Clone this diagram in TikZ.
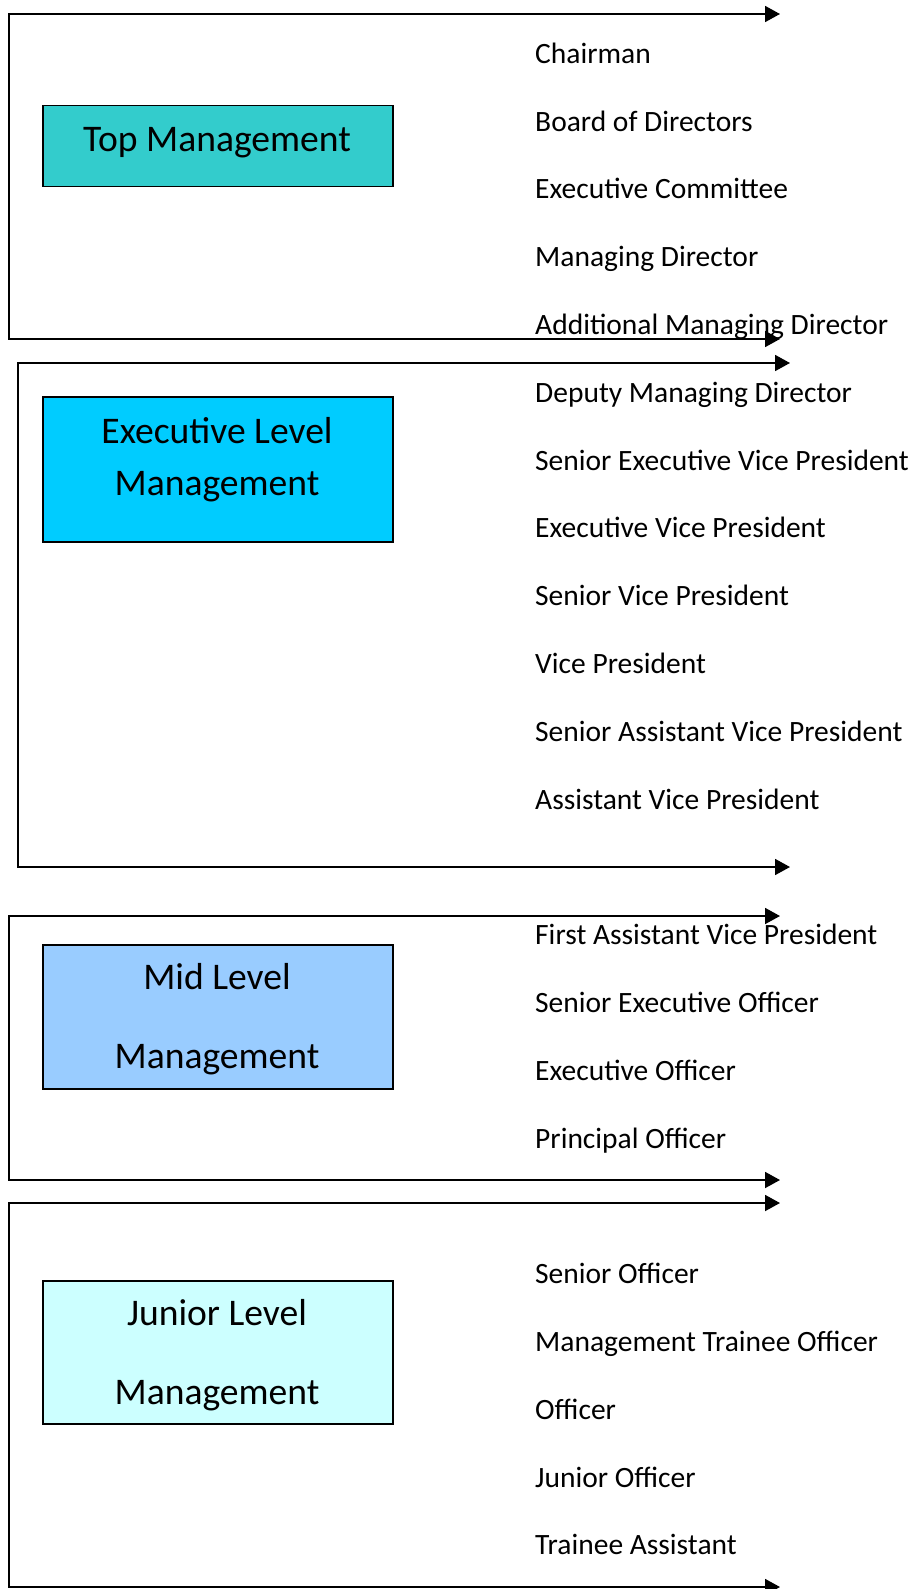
\documentclass[tikz,border=0pt]{standalone}
\usepackage{fontspec}
\setmainfont{Carlito}
\usetikzlibrary{arrows.meta}
\begin{document}
\begin{tikzpicture}[x=1pt,y=-1pt,
  bracket/.style={line width=1.8pt,{Triangle[length=15pt,width=16pt]}-{Triangle[length=15pt,width=16pt]}},
  levelbox/.style={draw=black,line width=1.5pt,minimum width=350pt,anchor=north west,inner sep=0pt},
  boxtext/.style={anchor=base,inner sep=0pt,font=\fontsize{37.6}{40}\selectfont},
  rank/.style={anchor=base west,inner sep=0pt,font=\fontsize{29.5}{32}\selectfont}]
\useasboundingbox (0,0) rectangle (910,1589);
\fill[white] (0,0) rectangle (910,1589);
% brackets
\coordinate (a1) at (780,14); \coordinate (l1t) at (9,14); \coordinate (l1b) at (9,339); \coordinate (b1) at (780,339);
\coordinate (a2) at (790,363); \coordinate (l2t) at (18,363); \coordinate (l2b) at (18,867); \coordinate (b2) at (790,867);
\coordinate (a3) at (780,916); \coordinate (l3t) at (9,916); \coordinate (l3b) at (9,1180); \coordinate (b3) at (780,1180);
\coordinate (a4) at (780,1203); \coordinate (l4t) at (9,1203); \coordinate (l4b) at (9,1587); \coordinate (b4) at (780,1587);
\draw[bracket] (a1) -- (l1t) -- (l1b) -- (b1);
\draw[bracket] (a2) -- (l2t) -- (l2b) -- (b2);
\draw[bracket] (a3) -- (l3t) -- (l3b) -- (b3);
\draw[bracket] (a4) -- (l4t) -- (l4b) -- (b4);
% boxes
\node[levelbox,fill={rgb,255:red,51;green,204;blue,204},minimum height=81pt] (top) at (42,105) {};
\node[levelbox,fill={rgb,255:red,0;green,204;blue,255},minimum height=145pt] (exec) at (42,396) {};
\node[levelbox,fill={rgb,255:red,153;green,204;blue,255},minimum height=144pt] (mid) at (42,944) {};
\node[levelbox,fill={rgb,255:red,204;green,255;blue,255},minimum height=143pt] (jun) at (42,1280) {};
\node[boxtext] (topt) at (217,152) {Top Management};
\node[boxtext] (exect1) at (217,443) {Executive Level};
\node[boxtext] (exect2) at (217,495) {Management};
\node[boxtext] (midt1) at (217,989) {Mid Level};
\node[boxtext] (midt2) at (217,1068) {Management};
\node[boxtext] (junt1) at (217,1325) {Junior Level};
\node[boxtext] (junt2) at (217,1404) {Management};
% ranks
\foreach \i/\t in {0/Chairman,1/Board of Directors,2/Executive Committee,3/Managing Director,4/Additional Managing Director,5/Deputy Managing Director,6/Senior Executive Vice President,7/Executive Vice President,8/Senior Vice President,9/Vice President,10/Senior Assistant Vice President,11/Assistant Vice President,13/First Assistant Vice President,14/Senior Executive Officer,15/Executive Officer,16/Principal Officer,18/Senior Officer,19/Management Trainee Officer,20/Officer,21/Junior Officer,22/Trainee Assistant}
  \node[rank] (r\i) at (535,63.3+\i*67.8) {\t};
\end{tikzpicture}
\end{document}
